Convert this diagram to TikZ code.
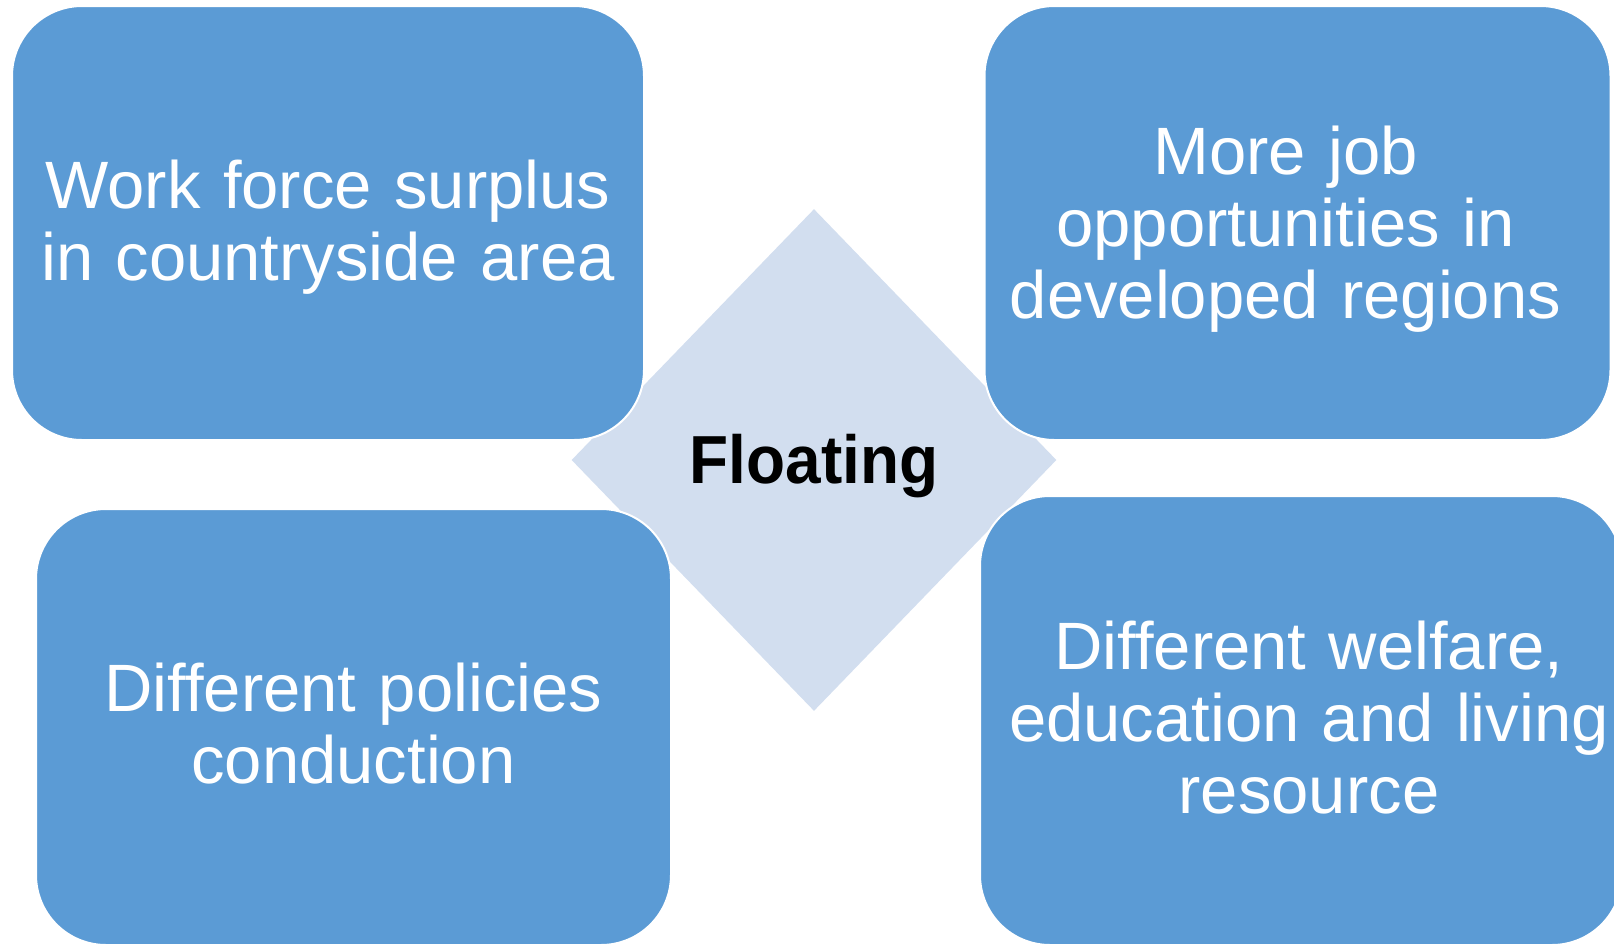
\documentclass[tikz,border=0pt]{standalone}
\usepackage{fontspec}
\setmainfont{Liberation Sans}
\newfontfamily\floatfont{Liberation Sans Bold}[FakeStretch=0.94]
\usetikzlibrary{shapes.geometric, positioning}
\definecolor{boxBlue}{HTML}{5B9BD5}
\definecolor{diaBlue}{HTML}{D2DEEF}
\tikzstyle{recNodeB} = [rectangle, minimum width=316pt, minimum height=217pt, text width=305pt, inner sep=4pt, text centered, rounded corners=35pt, draw=white, line width=1pt, fill=boxBlue, text=white, font=\fontsize{33.5}{36}\selectfont]
\tikzstyle{diaNode} = [diamond, minimum width=242.5pt, minimum height=251pt, inner sep=0pt, text height=30pt, text depth=7pt, fill=diaBlue, text=black, font=\fontsize{34}{36}\floatfont]
\tikzset{textShift/.style 2 args={execute at begin node={\leftskip=#1 plus 1fil\rightskip=-#1 plus 1fil\relax}, execute at end node={\par\vspace*{#2}}}}

\begin{document}
\begin{tikzpicture}[node distance=243pt]
    \useasboundingbox (0,0) rectangle (807pt,-472pt);
    \clip (0,0) rectangle (807pt,-472pt);

    \node (float) [diaNode] at (407pt,-230pt) {Floating};

    \node (surplus) [recNodeB, textShift={0pt}{-3.8pt}, left of=float, yshift=118.5pt] {Work force surplus\\in countryside area};
    \node (jobs) [recNodeB, textShift={-6pt}{-6pt}, right of=float, xshift=-1.25pt, yshift=118.5pt, minimum width=311.5pt] {More job\\opportunities in\\developed regions};
    \node (policy) [recNodeB, textShift={0pt}{3.4pt}, left of=float, xshift=12.75pt, yshift=-133.5pt, minimum width=317.5pt, minimum height=218pt] {Different policies\\conduction};
    \node (welfare) [recNodeB, textShift={4pt}{2.8pt}, right of=float, xshift=0.5pt, yshift=-130.25pt, minimum width=321pt, minimum height=224.5pt] {Different welfare,\\education and living\\resource};

\end{tikzpicture}
\end{document}
